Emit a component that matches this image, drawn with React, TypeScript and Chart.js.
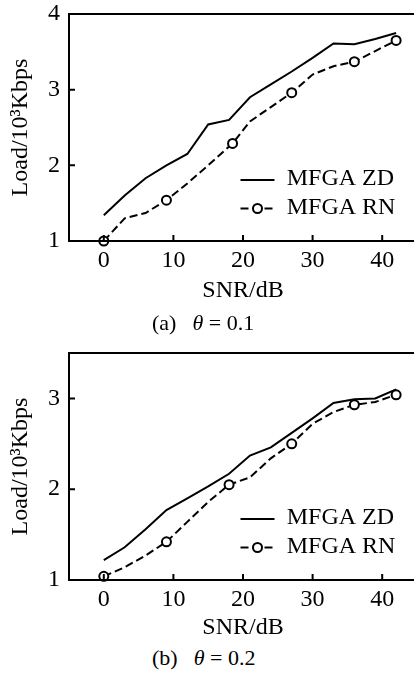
import React, { useEffect, useRef } from 'react';
import { Chart, registerables } from 'chart.js';

Chart.register(...registerables);

const FONT = '"Liberation Serif", "Times New Roman", serif';

// ---- data (a) theta = 0.1 ----
const snrA = [0, 3, 6, 9, 12, 15, 18, 21, 24, 27, 30, 33, 36, 39, 42];
const zdA = [1.34, 1.60, 1.83, 2.00, 2.15, 2.54, 2.60, 2.90, 3.07, 3.24, 3.42, 3.61, 3.60, 3.67, 3.75];
const snrRnA = [0, 3, 6, 9, 12, 15, 18.5, 21, 24, 27, 30, 33, 36, 39, 42];
const rnA = [1.0, 1.30, 1.37, 1.54, 1.76, 2.00, 2.29, 2.58, 2.77, 2.96, 3.20, 3.31, 3.37, 3.51, 3.65];

// ---- data (b) theta = 0.2 ----
const snrB = [0, 3, 6, 9, 12, 15, 18, 21, 24, 27, 30, 33, 36, 39, 42];
const zdB = [1.22, 1.36, 1.56, 1.77, 1.90, 2.03, 2.17, 2.37, 2.46, 2.62, 2.78, 2.95, 2.99, 3.00, 3.10];
const snrRnB = [0, 3, 6, 9, 12, 15, 18, 21, 24, 27, 30, 33, 36, 39, 42];
const rnB = [1.04, 1.14, 1.27, 1.42, 1.64, 1.86, 2.05, 2.13, 2.34, 2.50, 2.72, 2.85, 2.93, 2.96, 3.04];

const rnMarkerIdx = [0, 3, 6, 9, 12, 14];
const xTicks = [0, 10, 20, 30, 40];
const yTicksA = [1, 2, 3, 4];
const yTicksB = [1, 2, 3];
const seriesLabels = ['MFGA ZD', 'MFGA RN'];
const xTitle = 'SNR/dB';
const yTitle = 'Load/10³Kbps';

const decorPlugin = {
  id: 'decor',
  afterDatasetsDraw(chart: any) {
    const { ctx, chartArea: a, scales } = chart;
    ctx.save();
    ctx.strokeStyle = '#000';
    ctx.lineWidth = 2;
    ctx.setLineDash([]);
    ctx.strokeRect(a.left, a.top, a.right - a.left, a.bottom - a.top);
    ctx.beginPath();
    scales.x.ticks.forEach((t: any) => {
      const px = scales.x.getPixelForValue(t.value);
      ctx.moveTo(px, a.bottom);
      ctx.lineTo(px, a.bottom - 6);
    });
    scales.y.ticks.forEach((t: any) => {
      const py = scales.y.getPixelForValue(t.value);
      ctx.moveTo(a.left, py);
      ctx.lineTo(a.left + 6, py);
    });
    ctx.stroke();

    // legend
    const x0 = a.left + 171.5;
    const x1 = a.left + 205.5;
    const tx = a.left + 217.7;
    const r1 = a.top + 166;
    const r2 = a.top + 194.5;
    ctx.lineWidth = 2;
    ctx.beginPath();
    ctx.moveTo(x0, r1);
    ctx.lineTo(x1, r1);
    ctx.stroke();
    ctx.setLineDash([8, 4]);
    ctx.beginPath();
    ctx.moveTo(x0, r2);
    ctx.lineTo(x1, r2);
    ctx.stroke();
    ctx.setLineDash([]);
    ctx.beginPath();
    ctx.arc((x0 + x1) / 2, r2, 4.5, 0, Math.PI * 2);
    ctx.fillStyle = '#fff';
    ctx.fill();
    ctx.stroke();
    ctx.fillStyle = '#000';
    ctx.font = `24px ${FONT}`;
    ctx.textBaseline = 'middle';
    ctx.textAlign = 'left';
    const ds = chart.data.datasets;
    ctx.fillText(ds[0].label, tx, r1 - 1);
    ctx.fillText(ds[1].label, tx, r2 - 0.5);
    ctx.restore();
  },
};

type SubProps = {
  zdX: number[]; zdY: number[]; rnX: number[]; rnY: number[];
  yMax: number; yTicks: number[]; padTop: number; xAxisHeight: number;
  top: number; height: number;
};

function SubChart(p: SubProps) {
  const ref = useRef<HTMLCanvasElement | null>(null);
  useEffect(() => {
    if (!ref.current) return;
    const chart = new Chart(ref.current, {
      type: 'line',
      data: {
        datasets: [
          {
            label: seriesLabels[0],
            data: p.zdX.map((x, i) => ({ x, y: p.zdY[i] })),
            borderColor: '#000',
            borderWidth: 2,
            pointRadius: 0,
            fill: false,
            tension: 0,
            clip: false,
          } as any,
          {
            label: seriesLabels[1],
            data: p.rnX.map((x, i) => ({ x, y: p.rnY[i] })),
            borderColor: '#000',
            borderWidth: 2,
            borderDash: [8, 4],
            pointRadius: (c: any) => (rnMarkerIdx.includes(c.dataIndex) ? 4.5 : 0),
            pointBackgroundColor: '#fff',
            pointBorderColor: '#000',
            pointBorderWidth: 2,
            fill: false,
            tension: 0,
            clip: false,
          } as any,
        ],
      },
      options: {
        responsive: false,
        animation: false,
        devicePixelRatio: 1,
        layout: { autoPadding: false, padding: { top: p.padTop, left: 0, right: 0, bottom: 0 } },
        plugins: { legend: { display: false }, tooltip: { enabled: false } },
        scales: {
          x: {
            type: 'linear',
            position: 'bottom',
            min: -5,
            max: 45,
            grid: { display: false, drawTicks: false },
            border: { display: false },
            ticks: { color: '#000', padding: 8, font: { family: FONT, size: 24, lineHeight: 1 } },
            title: { display: true, text: xTitle, color: '#000', font: { family: FONT, size: 24 }, padding: { top: 0, bottom: 0 } },
            afterBuildTicks: (s: any) => { s.ticks = xTicks.map((v) => ({ value: v })); },
            afterFit: (s: any) => { s.height = p.xAxisHeight; s.paddingLeft = 0; s.paddingRight = 0; },
          },
          y: {
            type: 'linear',
            position: 'left',
            min: 1,
            max: p.yMax,
            grid: { display: false, drawTicks: false },
            border: { display: false },
            ticks: { color: '#000', padding: 9, font: { family: FONT, size: 24, lineHeight: 1 } },
            title: { display: true, text: yTitle, color: '#000', font: { family: FONT, size: 24 }, padding: { top: 6, bottom: 0 } },
            afterBuildTicks: (s: any) => { s.ticks = p.yTicks.map((v) => ({ value: v })); },
            afterFit: (s: any) => { s.width = 69; s.paddingTop = 0; s.paddingBottom = 0; },
          },
        },
      } as any,
      plugins: [decorPlugin],
    });
    return () => chart.destroy();
  }, []);
  return (
    <canvas
      ref={ref}
      width={417}
      height={p.height}
      style={{ position: 'absolute', left: 0, top: p.top, display: 'block' }}
    />
  );
}

const capStyle: React.CSSProperties = {
  position: 'absolute',
  left: 152,
  fontFamily: FONT,
  fontSize: 22,
  lineHeight: '22px',
  whiteSpace: 'pre',
  color: '#000',
};

export default function App() {
  return (
    <div style={{ position: 'absolute', left: 0, top: 0, width: 414, height: 673, overflow: 'hidden', background: '#fff' }}>
      <SubChart zdX={snrA} zdY={zdA} rnX={snrRnA} rnY={rnA} yMax={4} yTicks={yTicksA} padTop={14} xAxisHeight={64} top={0} height={305} />
      <SubChart zdX={snrB} zdY={zdB} rnX={snrRnB} rnY={rnB} yMax={3.5} yTicks={yTicksB} padTop={23} xAxisHeight={62} top={330} height={312} />
      <div style={{ ...capStyle, top: 311.5 }}>
        (a)<span style={{ marginLeft: 16, fontStyle: 'italic' }}>θ</span> = 0.1
      </div>
      <div style={{ ...capStyle, top: 646.5 }}>
        (b)<span style={{ marginLeft: 16, fontStyle: 'italic' }}>θ</span> = 0.2
      </div>
    </div>
  );
}
